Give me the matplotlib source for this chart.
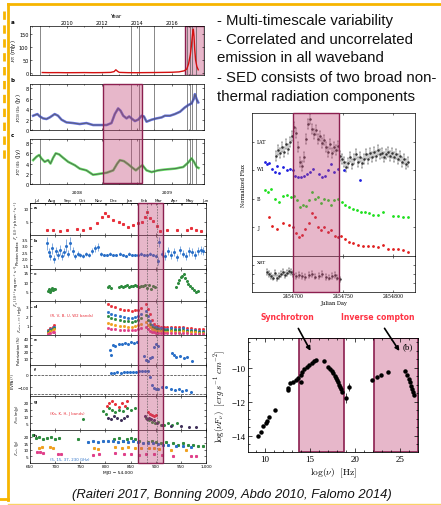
import matplotlib
matplotlib.use("Agg")
import matplotlib.pyplot as plt
from matplotlib.patches import Rectangle
from matplotlib.lines import Line2D
from matplotlib.colors import to_rgba
from matplotlib.transforms import blended_transform_factory

# ---------------- data: CTA 102 light curves (Raiteri 2017) ----------------
ra_year = [2008.6, 2009.0, 2009.5, 2010.0, 2010.5, 2011.0, 2011.5, 2012.0, 2012.5,
           2012.7, 2012.8, 2012.9, 2013.0, 2013.5, 2014.0, 2014.5, 2015.0, 2015.5,
           2016.0, 2016.4, 2016.7, 2016.85, 2016.95, 2017.05, 2017.12, 2017.18,
           2017.22, 2017.26, 2017.3, 2017.35, 2017.42, 2017.5]
ra_flux = [1.5, 1.0, 1.2, 0.8, 1.0, 1.3, 0.9, 1.2, 2.0, 5, 12, 6, 2, 1.0, 0.8, 1.2,
           1.5, 2.0, 2.5, 4, 8, 15, 35, 70, 110, 150, 168, 140, 90, 50, 25, 12]
mm230_year = [2008.08, 2008.32, 2008.46, 2008.65, 2008.84, 2009.03, 2009.31, 2009.5,
              2009.7, 2009.98, 2010.36, 2010.74, 2011.12, 2011.5, 2011.89, 2012.27,
              2012.55, 2012.74, 2012.93, 2013.07, 2013.22, 2013.41, 2013.56, 2013.69,
              2013.89, 2014.08, 2014.27, 2014.4, 2014.55, 2014.84, 2015.12, 2015.41,
              2015.6, 2015.89, 2016.17, 2016.46, 2016.74, 2016.93, 2017.12, 2017.26,
              2017.31, 2017.41, 2017.5]
mm230_flux = [2.73, 3.05, 2.6, 2.22, 2.1, 2.41, 3.05, 2.73, 1.97, 1.46, 1.33, 1.14,
              1.33, 0.95, 0.95, 0.95, 1.33, 3.05, 4.13, 3.68, 2.73, 2.22, 2.6, 2.22,
              1.71, 2.0, 2.73, 2.6, 1.59, 1.97, 2.22, 2.41, 2.73, 2.73, 3.05, 3.49,
              4.32, 4.76, 5.08, 6.03, 6.86, 5.9, 5.27]
mm37_year = [2008.08, 2008.27, 2008.42, 2008.55, 2008.74, 2008.93, 2009.07, 2009.22,
             2009.37, 2009.56, 2009.79, 2010.08, 2010.46, 2010.74, 2011.12, 2011.5,
             2011.89, 2012.27, 2012.65, 2012.88, 2013.03, 2013.26, 2013.5, 2013.69,
             2013.94, 2014.17, 2014.32, 2014.55, 2014.84, 2015.22, 2015.7, 2016.17,
             2016.65, 2016.93, 2017.12, 2017.26, 2017.41, 2017.52]
mm37_flux = [4.67, 5.33, 5.67, 5.0, 4.33, 4.67, 4.0, 5.13, 6.0, 5.8, 5.13, 4.33, 3.67,
             3.0, 2.67, 1.8, 2.0, 2.2, 2.67, 4.0, 4.67, 4.47, 3.87, 3.33, 2.67, 3.33,
             3.67, 2.67, 2.33, 2.67, 2.87, 3.0, 3.33, 4.2, 5.0, 4.33, 3.33, 3.13]
vline_year = [2008.45, 2013.65, 2014.1, 2014.97, 2016.88, 2017.02, 2017.15, 2017.38]
year_ticks = [2010, 2012, 2014, 2016]

# ---------------- data: 3C 279 campaign (Abdo 2010), MJD - 54000 ----------------
fg_mjd = [683, 696, 710, 723, 743, 756, 769, 783, 793, 799, 806, 816, 826, 835, 845,
          855, 865, 872, 879, 883, 889, 895, 902, 908, 922, 942, 962, 971, 981, 991]
fg_val = [1.7, 2.0, 1.4, 1.7, 2.4, 2.0, 2.6, 4.4, 6.8, 8.3, 7.1, 5.6, 5.0, 4.0, 2.9,
          3.8, 4.4, 5.0, 6.8, 8.8, 6.4, 5.2, 3.2, 1.4, 1.7, 1.7, 2.0, 2.6, 1.7, 1.4]
pi_mjd = [683, 687, 690, 694, 698, 702, 706, 710, 714, 718, 722, 726, 730, 735, 740,
          745, 750, 756, 762, 768, 774, 780, 786, 792, 798, 804, 810, 816, 822, 828,
          834, 840, 846, 852, 858, 864, 870, 876, 882, 888, 894, 900, 904, 907, 912,
          918, 924, 930, 936, 942, 948, 954, 960, 966, 972, 978, 984, 990, 995]
pi_val = [3.2, 2.5, 2.2, 2.8, 2.0, 2.6, 2.3, 2.7, 2.2, 2.5, 3.0, 2.4, 3.2, 2.6, 2.2,
          2.4, 2.3, 2.2, 2.4, 2.3, 2.6, 2.8, 2.9, 2.4, 2.3, 2.3, 2.4, 2.3, 2.3, 2.4,
          2.3, 2.2, 2.4, 2.3, 2.3, 2.3, 2.4, 2.3, 2.3, 2.4, 2.3, 2.2, 1.8, 3.3, 2.4,
          2.2, 2.6, 2.3, 2.5, 2.1, 2.7, 2.4, 2.2, 2.6, 2.5, 2.3, 2.6, 2.7, 2.6]
pi_err = [0.5, 0.3, 0.3, 0.4, 0.3, 0.3, 0.3, 0.4, 0.3, 0.3, 0.5, 0.3, 0.5, 0.3, 0.2,
          0.2, 0.15, 0.15, 0.15, 0.15, 0.2, 0.25, 0.3, 0.15, 0.1, 0.1, 0.1, 0.1, 0.1,
          0.1, 0.1, 0.1, 0.1, 0.1, 0.1, 0.1, 0.1, 0.1, 0.1, 0.1, 0.1, 0.15, 0.3, 0.4,
          0.3, 0.3, 0.3, 0.3, 0.3, 0.3, 0.3, 0.3, 0.3, 0.35, 0.3, 0.3, 0.3, 0.3, 0.3]
fx_mjd = [686, 688, 690, 692, 694, 696, 698, 700, 805, 808, 812, 826, 830, 834, 838,
          842, 846, 850, 854, 858, 862, 866, 870, 874, 878, 882, 886, 890, 894, 898,
          940, 944, 947, 950, 953, 956, 959, 962, 965, 968, 972, 976, 980, 984]
fx_val = [5.5, 6.5, 5.0, 6.0, 7.0, 5.8, 6.5, 6.2, 7.5, 8.0, 7.0, 7.5, 8.0, 7.2, 7.8,
          8.5, 7.6, 8.2, 7.9, 8.6, 8.0, 7.4, 8.2, 7.8, 8.4, 7.0, 8.3, 6.5, 7.9, 7.2,
          7.5, 9.5, 11.0, 12.5, 13.5, 14.5, 12.0, 10.5, 9.0, 8.0, 7.0, 6.0, 5.0, 5.5]
opt_mjd = [685, 690, 695, 698, 805, 812, 820, 828, 836, 844, 852, 858, 864, 870, 880,
           884, 888, 892, 896, 900, 905, 910, 916, 922, 930, 938, 946, 954, 962, 970,
           978, 986, 994]
opt_R = [0.5, 0.7, 0.9, 1.1, 3.3, 3.1, 3.0, 2.8, 2.7, 2.6, 2.5, 2.6, 2.7, 2.9, 3.3,
         2.8, 2.2, 1.6, 1.2, 1.0, 1.0, 0.9, 0.8, 0.8, 0.9, 0.8, 0.8, 0.9, 0.7, 0.7,
         0.6, 0.6, 0.6]
opt_V = [0.4, 0.6, 0.7, 0.9, 2.4, 2.2, 2.1, 2.0, 1.9, 1.8, 1.8, 1.9, 2.0, 2.2, 2.5,
         2.0, 1.5, 1.1, 0.9, 0.8, 0.7, 0.7, 0.6, 0.6, 0.7, 0.6, 0.6, 0.7, 0.5, 0.5,
         0.5, 0.4, 0.4]
opt_B = [0.3, 0.5, 0.6, 0.7, 2.0, 1.8, 1.7, 1.6, 1.5, 1.5, 1.4, 1.5, 1.6, 1.8, 2.1,
         1.6, 1.2, 0.9, 0.7, 0.6, 0.6, 0.5, 0.5, 0.5, 0.5, 0.5, 0.5, 0.5, 0.4, 0.4,
         0.4, 0.3, 0.3]
opt_U = [0.2, 0.4, 0.5, 0.6, 1.3, 1.2, 1.1, 1.0, 1.0, 0.9, 0.9, 1.0, 1.1, 1.2, 1.4,
         1.1, 0.8, 0.6, 0.5, 0.4, 0.4, 0.4, 0.3, 0.3, 0.4, 0.3, 0.3, 0.4, 0.3, 0.3,
         0.3, 0.2, 0.2]
opt_W2 = [0.1, 0.2, 0.3, 0.3, 0.7, 0.6, 0.6, 0.5, 0.5, 0.5, 0.5, 0.5, 0.6, 0.7, 0.8,
          0.6, 0.4, 0.3, 0.3, 0.2, 0.2, 0.2, 0.2, 0.2, 0.2, 0.2, 0.2, 0.2, 0.2, 0.1,
          0.1, 0.1, 0.1]
pol_mjd = [809, 812, 815, 820, 826, 832, 838, 844, 850, 856, 862, 876, 880, 884, 888,
           892, 896, 900, 904, 932, 936, 940, 948, 956, 962, 972]
pol_val = [22, 15, 30, 28, 32, 31, 33, 32, 34, 33, 35, 14, 8, 6, 10, 12, 27, 31, 28,
           18, 15, 12, 14, 10, 12, 6]
evpa_mjd = [812, 818, 824, 830, 836, 842, 848, 854, 860, 866, 872, 878, 884, 888, 892,
            896, 900, 904, 912, 920, 930, 938, 946, 952, 960, 970]
evpa_val = [15, 18, 20, 19, 22, 25, 24, 27, 26, 30, 32, 35, 28, -20, -85, -105, -115,
            -110, -100, -95, -115, -125, -110, -130, -125, -135]
evpa_ref = [0, -150]
nir_mjd_r = [803, 808, 814, 820, 826, 832, 838, 842, 884, 888, 892, 896, 900]
nir_r = [18, 20, 21, 19, 17, 20, 18, 21, 13, 12, 11, 10, 11]
nir_mjd_g = [756, 795, 802, 808, 814, 820, 826, 834, 842, 850, 858, 880, 886, 892, 898,
             904, 910, 916, 924, 932, 942]
nir_g = [8, 14, 12, 16, 15, 13, 15, 14, 16, 15, 16, 9, 7, 6, 5, 6, 4, 4, 5, 4, 5]
nir_mjd_k = [806, 812, 818, 824, 830, 836, 842, 878, 882, 886, 890, 896, 902, 912, 930,
             950, 966, 980]
nir_k = [9, 8, 10, 9, 7, 9, 10, 10, 8, 9, 8, 7, 5, 4, 3, 3, 2, 2]
rad_mjd_g = [656, 662, 668, 676, 684, 692, 700, 708, 745, 818, 826, 834, 842, 850, 858,
             866, 884, 892, 900, 910, 920, 935, 945, 955, 965, 975, 985, 995]
rad_g = [21, 19, 20, 18, 19, 20, 18, 19, 18, 18, 19, 17, 18, 19, 18, 17, 16, 17, 16,
         15, 16, 15, 14, 15, 14, 14, 13, 13]
rad_mjd_b = [765, 775, 785, 795, 805, 815, 825, 835, 845, 855, 865, 875, 885, 895, 905,
             915, 925, 940, 955, 970]
rad_b = [16, 16.5, 16, 17, 16.5, 17, 16, 16.5, 16, 16.5, 16, 15.5, 15, 15, 14.5, 14,
         14, 13, 13, 12]
rad_mjd_o = [668, 674, 690, 696, 778, 786, 820, 832, 845, 858, 870, 886, 896, 906, 930, 960]
rad_o = [11, 12, 12.5, 11.5, 11, 10.5, 12, 11.5, 12, 11, 11.5, 11, 11, 10.5, 10, 9.5]
rad_mjd_m = [663, 670, 676, 705, 712, 776, 788, 820, 836, 850, 866, 880, 896, 912, 935,
             970, 980]
rad_m = [8, 8.5, 7.5, 7, 6.5, 6, 7, 7.5, 6.5, 7, 6, 6.5, 7, 6, 5.5, 5.5, 5]
month_start = [648, 679, 710, 740, 771, 801, 832, 863, 891, 922, 952, 983]
month_names = ["Jul", "Aug", "Sep", "Oct", "Nov", "Dec", "Jan", "Feb", "Mar", "Apr",
               "May", "Jun"]
flare_mjd = [865, 914]
flare_marks = [883, 902]

# ---------------- data: 3C 454.3 (Bonning 2009), JD - 2454000 ----------------
JD0 = 2454000
lat_day = [683, 685, 687, 689, 691, 693, 695, 697, 699, 701, 703, 705, 707, 709, 711,
           713, 715, 717, 719, 721, 723, 725, 727, 729, 731, 733, 735, 737, 739, 741,
           743, 745, 747, 749, 751, 753, 755, 757, 759, 761, 763, 765, 767, 769, 771,
           773, 775, 777, 779, 781, 783, 785, 787, 789, 791, 793, 795, 797, 799, 801,
           803, 805, 807, 809, 811, 813, 815]
lat_val = [7.0, 7.4, 7.2, 7.6, 7.3, 7.8, 7.5, 8.0, 8.4, 9.0, 8.6, 7.6, 6.6, 6.3, 6.9,
           8.2, 9.2, 9.6, 8.9, 8.5, 8.8, 8.2, 8.4, 7.9, 8.1, 7.6, 7.3, 7.8, 7.2, 7.6,
           7.4, 7.7, 7.0, 6.8, 6.6, 6.2, 6.5, 6.9, 6.4, 6.8, 7.1, 6.6, 6.9, 6.5, 6.8,
           7.1, 6.8, 7.2, 6.9, 7.3, 7.0, 7.4, 7.1, 7.2, 6.9, 7.1, 7.3, 7.0, 7.2, 6.9,
           7.1, 6.8, 7.0, 6.6, 6.8, 6.4, 6.6]
LAT_ERR = 0.35
w1_day = [672, 674, 676, 679, 682, 684, 686, 690, 694, 697, 700, 702, 705, 708, 711,
          714, 717, 720, 726, 729, 732, 735, 738, 741, 745, 751, 767]
w1_val = [6.6, 6.4, 6.5, 6.1, 5.9, 6.3, 5.8, 6.2, 6.0, 6.1, 6.0, 5.6, 5.5, 5.5, 5.6,
          5.7, 5.9, 6.1, 5.7, 5.5, 5.6, 6.0, 6.4, 5.9, 6.1, 6.0, 5.3]
b_day = [672, 675, 678, 682, 686, 690, 694, 698, 701, 704, 707, 710, 713, 716, 719,
         722, 725, 728, 731, 735, 738, 741, 745, 749, 752, 756, 760, 764, 768, 772,
         776, 780, 785, 790, 800, 805, 810, 815]
b_val = [4.6, 4.5, 4.7, 4.0, 3.8, 4.2, 4.3, 4.1, 4.2, 3.9, 3.4, 3.6, 3.5, 3.9, 4.5,
         4.0, 4.1, 3.7, 4.0, 3.9, 3.6, 3.9, 4.0, 3.8, 3.6, 3.4, 3.3, 3.2, 3.1, 3.1,
         3.0, 2.9, 2.9, 3.1, 2.8, 2.8, 2.7, 2.7]
j_day = [676, 679, 684, 690, 696, 700, 703, 706, 709, 712, 716, 719, 722, 725, 728,
         731, 735, 738, 742, 745, 748, 752, 756, 760, 765, 770, 775, 780, 785, 790,
         795, 800, 805, 810, 815]
j_val = [2.7, 2.1, 1.9, 2.3, 2.2, 2.0, 1.6, 1.3, 1.5, 1.9, 2.3, 3.0, 2.7, 2.0, 1.8,
         2.0, 1.7, 1.8, 1.4, 1.3, 1.4, 1.2, 1.0, 0.9, 0.8, 0.7, 0.7, 0.7, 0.6, 0.8,
         0.5, 0.5, 0.5, 0.4, 0.3]
xrt_day = [674, 676, 678, 680, 682, 684, 686, 688, 690, 692, 694, 696, 698, 700, 703,
           706, 709, 712, 716, 719, 722, 726, 729, 733, 736, 739, 742, 744, 747]
xrt_val = [0.55, 0.50, 0.45, 0.40, 0.52, 0.38, 0.45, 0.50, 0.55, 0.48, 0.52, 0.58,
           0.55, 0.50, 0.45, 0.48, 0.45, 0.42, 0.47, 0.50, 0.43, 0.45, 0.50, 0.42,
           0.40, 0.45, 0.48, 0.40, 0.35]
XRT_ERR = 0.08
band_names = ["LAT", "W1", "B", "J"]
band_levels = [8.0, 6.1, 4.0, 2.0]
hl_day = [700, 746]
jd_ticks = [2454700, 2454750, 2454800]

# ---------------- data: SED (Falomo 2014) ----------------
sed_lognu = [9.25, 9.51, 9.8, 10.06, 10.24, 10.47, 11.1, 12.51, 12.58, 12.77, 13.14,
             13.43, 13.62, 13.96, 13.99, 14.14, 14.36, 14.62, 14.88, 15.18, 15.4,
             15.62, 16.58, 17.03, 17.21, 17.4, 17.58, 17.77, 17.88, 18.03, 18.14,
             18.21, 18.32, 18.43, 18.51, 21.9, 22.45, 22.93, 23.67, 25.6, 25.8, 25.99,
             26.13, 26.24, 26.35, 26.43, 26.5]
sed_lognufnu = [-14.02, -13.75, -13.44, -13.24, -13.1, -12.89, -12.46, -11.2, -11.3,
                -10.89, -10.81, -10.69, -10.61, -10.42, -10.81, -10.22, -10.07, -9.93,
                -9.81, -9.71, -9.63, -9.57, -9.61, -9.93, -10.07, -10.2, -10.32,
                -10.46, -10.59, -10.71, -10.85, -11.0, -11.14, -11.27, -11.43, -10.7,
                -10.55, -10.42, -10.27, -10.18, -10.43, -10.67, -10.86, -11.06,
                -11.25, -11.45, -11.6]
sed_err_lognu = [18.95, 19.36]
sed_err_val = [-11.77, -11.14]
sed_err = [0.3, 0.25]
sync_band = [13.8, 18.8]
ic_band = [22.1, 27.0]

bullets = ["- Multi-timescale variability", "- Correlated and uncorrelated",
           "emission in all waveband", "- SED consists of two broad non-",
           "thermal radiation components"]
bullet_rows = [21, 40, 58, 78, 97]
citation = "(Raiteri 2017, Bonning 2009, Abdo 2010, Falomo 2014)"

# ---------------- figure ----------------
plt.rcParams["mathtext.fontset"] = "cm"
W, H = 441, 506
fig = plt.figure(figsize=(W / 100, H / 100), dpi=100)
fig.patch.set_facecolor("white")

PINK = to_rgba("#c04375", 0.38)
PINK_EDGE = "#8b1f4f"
GOLD = "#f7b500"


def box(x0, y0, x1, y1):
    return fig.add_axes([x0 / W, 1 - y1 / H, (x1 - x0) / W, (y1 - y0) / H])


def tiny(ax, size=3.2):
    ax.tick_params(which="both", direction="in", length=1.5, width=0.4,
                   labelsize=size, pad=1, top=True, right=True)
    ax.tick_params(which="minor", length=0.8)
    for s in ax.spines.values():
        s.set_linewidth(0.5)


def fig_y(py):
    return 1 - py / H


# ---- Raiteri 2017 panels ----
axA = box(30, 27, 204, 76)
axB = box(30, 85, 204, 131)
axC = box(30, 140, 204, 185)
for ax in (axA, axB, axC):
    tiny(ax, 3.6)
    ax.set_xlim(2007.9, 2017.83)
    ax.set_xticks(year_ticks)
    ax.set_xticks(range(2008, 2018), minor=True)
    for yv in vline_year:
        ax.axvline(yv, color="0.35", lw=0.5)
axA.plot(ra_year, ra_flux, color="#d41010", lw=1.0)
axA.set_ylim(-8, 180)
axA.set_yticks([0, 50, 100, 150])
axA.tick_params(axis="x", labeltop=True, labelbottom=False)
axA.set_xlabel("Year", fontsize=3.8, labelpad=2)
axA.xaxis.set_label_position("top")
axA.add_patch(Rectangle((2016.74, -8), 1.09, 188, facecolor=PINK,
                        edgecolor=PINK_EDGE, lw=1.0))
axB.plot(mm230_year, mm230_flux, color="#3040d0", lw=1.8, alpha=0.75)
axB.plot(mm230_year, mm230_flux, color="0.35", lw=0.5)
axC.plot(mm37_year, mm37_flux, color="#30d030", lw=1.8, alpha=0.75)
axC.plot(mm37_year, mm37_flux, color="0.3", lw=0.5)
for ax in (axB, axC):
    ax.set_ylim(0, 8.8)
    ax.set_yticks([0, 2, 4, 6, 8])
    ax.tick_params(axis="x", labelbottom=False)
axA.set_ylabel(r"$F_R$ (mJy)", fontsize=3.8, labelpad=1)
axB.set_ylabel(r"$F_{230\ \mathrm{GHz}}$ (Jy)", fontsize=3.8, labelpad=2)
axC.set_ylabel(r"$F_{37\ \mathrm{GHz}}$ (Jy)", fontsize=3.8, labelpad=2)
for ax, letter in zip((axA, axB, axC), "abc"):
    ax.text(-0.1, 1.1, letter, transform=ax.transAxes, fontsize=4, weight="bold",
            ha="center", va="center")
tr = blended_transform_factory(axB.transData, fig.transFigure)
fig.add_artist(Rectangle((2012.06, fig_y(184)), 2.23, fig_y(85) - fig_y(184),
                         transform=tr, facecolor=PINK, edgecolor=PINK_EDGE, lw=1.0))

# ---- Abdo 2010 panels ----
edges = [204, 236, 270, 302, 336, 366, 397, 431, 464]
ab = [box(30, edges[i], 206, edges[i + 1]) for i in range(8)]
for ax in ab:
    tiny(ax, 3.0)
    ax.set_xlim(650, 1000)
    ax.set_xticks([650, 700, 750, 800, 850, 900, 950, 1000])
    ax.tick_params(axis="x", labelbottom=False)
ab[-1].tick_params(axis="x", labelbottom=True)
ab[-1].set_xticklabels(["650", "700", "750", "800", "850", "900", "950", "1,000"])
ab[-1].set_xlabel("MJD \u2212 54,000", fontsize=3.2, labelpad=1)

RED, BLUE, GREEN = "#e8303a", "#2a70c8", "#2e8b3e"
ORANGE, MAG, DARK = "#f0a020", "#e0408a", "#40305a"
ms = 1.2
ab[0].plot(fg_mjd, fg_val, "s", color=RED, ms=ms)
ab[0].set_ylim(0, 12)
ab[0].set_yticks([5, 10])
ab[1].errorbar(pi_mjd, pi_val, yerr=pi_err, fmt="o", color=BLUE, ms=ms,
               elinewidth=0.4, capsize=0)
ab[1].set_ylim(1.2, 3.85)
ab[1].set_yticks([1.5, 2.0, 2.5, 3.0, 3.5])
ab[2].plot(fx_mjd, fx_val, "o", color=GREEN, ms=ms)
ab[2].set_ylim(0, 17)
ab[2].set_yticks([5, 10, 15])
for vals, col in zip((opt_R, opt_V, opt_B, opt_U, opt_W2),
                     (RED, BLUE, GREEN, ORANGE, MAG)):
    ab[3].plot(opt_mjd, vals, "s", color=col, ms=1.0)
ab[3].set_ylim(0, 3.6)
ab[3].set_yticks([1, 2, 3])
ab[3].text(690, 2.0, "(R, V, B, U, W2 bands)", fontsize=2.8, color=RED)
ab[4].plot(pol_mjd, pol_val, "o", color=BLUE, ms=ms)
ab[4].set_ylim(0, 45)
ab[4].set_yticks([10, 20, 30, 40])
ab[5].plot(evpa_mjd, evpa_val, "o", color=BLUE, ms=ms)
for ref in evpa_ref:
    ab[5].axhline(ref, color="0.2", lw=0.5, ls="--")
ab[5].set_ylim(-170, 80)
ab[5].set_yticks([-100, 0])
ab[6].plot(nir_mjd_r, nir_r, "o", color=RED, ms=ms)
ab[6].plot(nir_mjd_g, nir_g, "o", color=GREEN, ms=ms)
ab[6].plot(nir_mjd_k, nir_k, "o", color=DARK, ms=ms)
ab[6].set_ylim(0, 25)
ab[6].set_yticks([5, 10, 15, 20])
ab[6].text(690, 11.5, "(Ks, K, H, J bands)", fontsize=2.8, color=RED)
ab[7].plot(rad_mjd_g, rad_g, "s", color=GREEN, ms=ms)
ab[7].plot(rad_mjd_b, rad_b, "s", color=BLUE, ms=ms)
ab[7].plot(rad_mjd_o, rad_o, "s", color=ORANGE, ms=ms)
ab[7].plot(rad_mjd_m, rad_m, "s", color=MAG, ms=ms)
ab[7].set_ylim(0, 25)
ab[7].set_yticks([5, 10, 15, 20])
ab[7].text(690, 2.5, "(5, 15, 37, 230 GHz)", fontsize=2.8, color=BLUE)

ylabels = [r"$F_\gamma$ ($10^{-6}$ ph cm$^{-2}$ s$^{-1}$)", "Photon index",
           r"$F_X$ ($10^{-12}$ erg cm$^{-2}$ s$^{-1}$)", r"$F_{\rm optical-UV}$ (mJy)",
           "Polarization (%)", "EVPA (\u00b0)", r"$F_{\rm NIR}$ (mJy)",
           r"$F_{\rm radio}$ (Jy)"]
for ax, lab, letter in zip(ab, ylabels, "abcdefgh"):
    ax.set_ylabel(lab, fontsize=2.6, labelpad=1.5)
    ax.text(0.02, 0.86, letter, transform=ax.transAxes, fontsize=3.2,
            weight="bold", va="center")

sec = ab[0].secondary_xaxis("top")
sec.set_xticks(month_start)
sec.set_xticklabels([])
sec.set_xticks([m + 15 for m in month_start], minor=True)
sec.set_xticklabels(month_names, minor=True)
sec.tick_params(which="major", direction="in", length=1.5, width=0.4)
sec.tick_params(which="minor", length=0, labelsize=3.0, pad=1)
sec.spines["top"].set_linewidth(0.5)
ab[0].text(743, 1.32, "2008", transform=blended_transform_factory(
    ab[0].transData, ab[0].transAxes), fontsize=3.2, ha="center")
ab[0].text(922, 1.32, "2009", transform=blended_transform_factory(
    ab[0].transData, ab[0].transAxes), fontsize=3.2, ha="center")

tr2 = blended_transform_factory(ab[-1].transData, fig.transFigure)
fig.add_artist(Rectangle((flare_mjd[0], fig_y(464)), flare_mjd[1] - flare_mjd[0],
                         fig_y(204) - fig_y(464), transform=tr2, facecolor=PINK,
                         edgecolor=PINK_EDGE, lw=1.0))
for xm in flare_marks:
    fig.add_artist(Line2D([xm, xm], [fig_y(464), fig_y(204)], transform=tr2,
                          color="0.3", lw=0.4, ls=(0, (3, 2))))

# ---- Bonning 2009 panels ----
axm = box(252, 114, 415, 257)
axx = box(252, 257, 415, 293)
for ax in (axm, axx):
    tiny(ax, 3.4)
    ax.set_xlim(JD0 + 659, JD0 + 822)
    ax.set_xticks(jd_ticks)
    ax.ticklabel_format(axis="x", useOffset=False, style="plain")
    ax.set_yticklabels([])
axm.tick_params(axis="x", labelbottom=False)
axm.set_ylim(0, 10)
axm.set_yticks([2, 4, 6, 8])
axm.errorbar([JD0 + d for d in lat_day], lat_val, yerr=LAT_ERR, fmt="o", color="0.2",
             ms=0.8, elinewidth=0.35, capsize=0.6, capthick=0.3)
axm.plot([JD0 + d for d in w1_day], w1_val, "o", color="#2020e0", ms=1.0)
axm.plot([JD0 + d for d in b_day], b_val, "o", color="#20e020", ms=1.0)
axm.plot([JD0 + d for d in j_day], j_val, "o", color="#e02020", ms=1.0)
for name, lev in zip(band_names, band_levels):
    axm.text(JD0 + 664, lev, name, fontsize=3.4, family="DejaVu Serif", va="center")
axm.set_ylabel("Normalized Flux", fontsize=3.6, family="DejaVu Serif", labelpad=3)
axx.errorbar([JD0 + d for d in xrt_day], xrt_val, yerr=XRT_ERR, fmt="o", color="0.2",
             ms=0.8, elinewidth=0.35, capsize=0.6, capthick=0.3)
axx.set_ylim(0, 1)
axx.set_yticks([0.25, 0.5, 0.75])
axx.text(JD0 + 664, 0.82, "XRT", fontsize=3.2, family="DejaVu Serif", va="center")
axx.set_xlabel("Julian Day", fontsize=3.6, family="DejaVu Serif", labelpad=1)
axx.tick_params(axis="x", labelsize=3.4, labelfontfamily="DejaVu Serif")
tr3 = blended_transform_factory(axx.transData, fig.transFigure)
fig.add_artist(Rectangle((JD0 + hl_day[0], fig_y(293)), hl_day[1] - hl_day[0],
                         fig_y(114) - fig_y(293), transform=tr3, facecolor=PINK,
                         edgecolor=PINK_EDGE, lw=1.0))

# ---- SED ----
axs = box(248, 339, 418, 453)
axs.tick_params(which="both", direction="in", top=True, right=True, width=0.5,
                labelsize=6.5, pad=2, labelfontfamily="Liberation Serif")
axs.tick_params(which="major", length=3)
axs.tick_params(which="minor", length=1.5)
for s in axs.spines.values():
    s.set_linewidth(0.6)
axs.set_xlim(8.1, 27.0)
axs.set_ylim(-14.95, -8.25)
axs.set_xticks([10, 15, 20, 25])
axs.set_xticks(range(9, 28), minor=True)
axs.set_yticks([-14, -12, -10])
axs.set_yticks([-14.5, -13.5, -13, -12.5, -11.5, -11, -10.5, -9.5, -9, -8.5], minor=True)
axs.set_yticklabels(["\u221214", "\u221212", "\u221210"])
for band in (sync_band, ic_band):
    axs.add_patch(Rectangle((band[0], -14.95), band[1] - band[0], 6.7, facecolor=PINK,
                            edgecolor=PINK_EDGE, lw=1.2, zorder=1))
axs.plot(sed_lognu, sed_lognufnu, "o", color="black", ms=2.2, zorder=3)
axs.errorbar(sed_err_lognu, sed_err_val, yerr=sed_err, fmt="o", color="black",
             ms=2.2, elinewidth=0.5, capsize=0, zorder=3)
axs.text(26.4, -8.75, "(b)", fontsize=6.5, family="Liberation Serif", ha="right",
         va="center")
axs.set_xlabel(r"$\log(\nu)\ \ [\mathrm{Hz}]$", fontsize=6.8, labelpad=2)
axs.set_ylabel(r"$\log(\nu F_\nu)\ \ [erg\ s^{-1}\ cm^{-2}]$", fontsize=6.3,
               labelpad=2)
fig.text(287 / W, fig_y(318), "Synchrotron", color="#ff3344", fontsize=5.6,
         weight="bold", ha="center", va="center")
fig.text(378 / W, fig_y(318), "Inverse compton", color="#ff3344", fontsize=5.6,
         weight="bold", ha="center", va="center")
axs.annotate("", xy=(15.2, -9.15), xytext=(297, H - 327), textcoords="figure pixels",
             arrowprops=dict(arrowstyle="-|>", color="black", lw=1.2,
                             mutation_scale=6), annotation_clip=False)
axs.annotate("", xy=(25.1, -9.15), xytext=(383, H - 327), textcoords="figure pixels",
             arrowprops=dict(arrowstyle="-|>", color="black", lw=1.2,
                             mutation_scale=6), annotation_clip=False)

# ---- slide text and frame ----
for line, row in zip(bullets, bullet_rows):
    fig.text(217 / W, fig_y(row), line, fontsize=10.8,
             family="Liberation Sans", va="center", color="#111111")
fig.text(232 / W, fig_y(495), citation, fontsize=9.4, family="Liberation Sans",
         style="italic", ha="center", va="center", color="#111111")

fig.add_artist(Line2D([8 / W, 1], [fig_y(5), fig_y(5)], color=GOLD, lw=2.0))
fig.add_artist(Line2D([8 / W, 8 / W], [fig_y(5), fig_y(501)], color=GOLD, lw=2.0))
fig.add_artist(Line2D([4 / W, 4 / W], [fig_y(12), fig_y(160)], color=GOLD, lw=2.0,
                      ls=(0, (3, 2))))
fig.add_artist(Line2D([0, 8 / W], [fig_y(500), fig_y(500)], color=GOLD, lw=2.0))
fig.add_artist(Line2D([8 / W, 1], [fig_y(504.5), fig_y(504.5)], color=GOLD, lw=1.0,
                      alpha=0.6))

fig.savefig("out.png", dpi=100)
